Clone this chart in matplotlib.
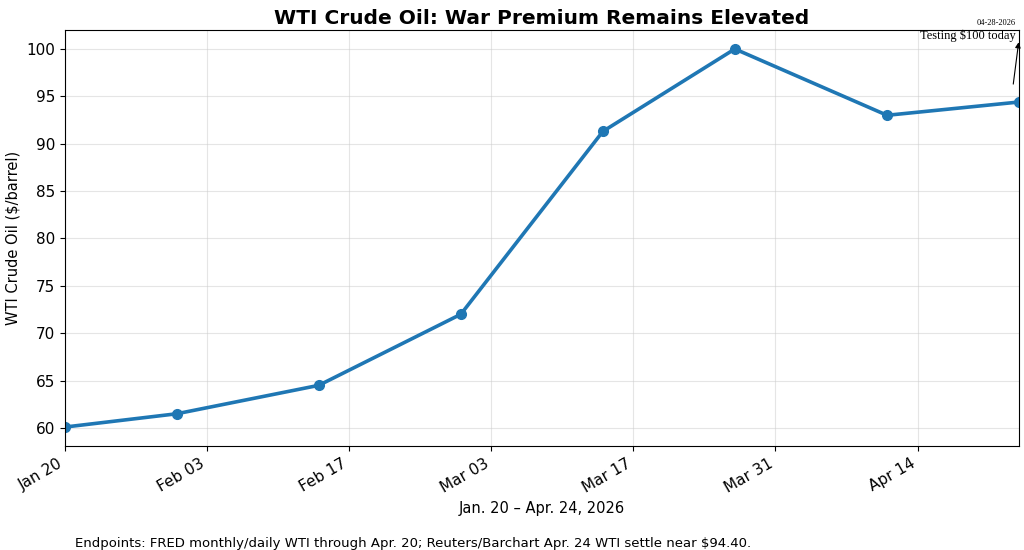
import matplotlib
matplotlib.use("Agg")
import matplotlib.pyplot as plt
import matplotlib.dates as mdates
import pandas as pd

dates = ["2026-01-20", "2026-01-31", "2026-02-14", "2026-02-28",
         "2026-03-14", "2026-03-27", "2026-04-11", "2026-04-24"]
prices = [60.1, 61.5, 64.5, 72.0, 91.3, 100.0, 93.0, 94.4]
tick_dates = ["2026-01-20", "2026-02-03", "2026-02-17", "2026-03-03",
              "2026-03-17", "2026-03-31", "2026-04-14"]

x = pd.to_datetime(dates)
ticks = pd.to_datetime(tick_dates)

fig = plt.figure(figsize=(10.24, 5.5), dpi=100)
ax = fig.add_axes([65/1024, 1-446/550, (1019-65)/1024, (446-30)/550])
ax.plot(x, prices, color="#1f77b4", lw=2.6, marker="o", ms=7)
ax.set_xlim(x[0], x[-1])
ax.set_ylim(58.1, 102.0)
ax.set_xticks(ticks)
ax.xaxis.set_major_formatter(mdates.DateFormatter("%b %d"))
for lab in ax.get_xticklabels():
    lab.set_rotation(30)
    lab.set_ha("right")
ax.tick_params(labelsize=11)
ax.grid(True, color="#cccccc", alpha=0.5, lw=0.8)
ax.set_title("WTI Crude Oil: War Premium Remains Elevated", fontsize=14.5, fontweight="bold", pad=4)
ax.set_ylabel("WTI Crude Oil ($/barrel)", fontsize=10.5)
ax.set_xlabel("Jan. 20 \u2013 Apr. 24, 2026", fontsize=10.5)

ax.annotate("", xy=(x[-1], 101.0), xytext=(x[-1] - pd.Timedelta(days=0.6), 96.0),
            arrowprops=dict(arrowstyle="-|>", color="black", lw=0.8, mutation_scale=8))
ax.text(1016/1024, 1-36/550, "Testing $100 today", transform=fig.transFigure,
        ha="right", va="center", fontsize=9, family="Liberation Serif")
ax.text(1016/1024, 1-23/550, "04-28-2026", transform=fig.transFigure,
        ha="right", va="center", fontsize=6, family="Liberation Serif")

fig.text(75/1024, 1-544/550,
         "Endpoints: FRED monthly/daily WTI through Apr. 20; Reuters/Barchart Apr. 24 WTI settle near $94.40.",
         ha="left", va="center", fontsize=9.5)

fig.savefig("out.png", dpi=100)
